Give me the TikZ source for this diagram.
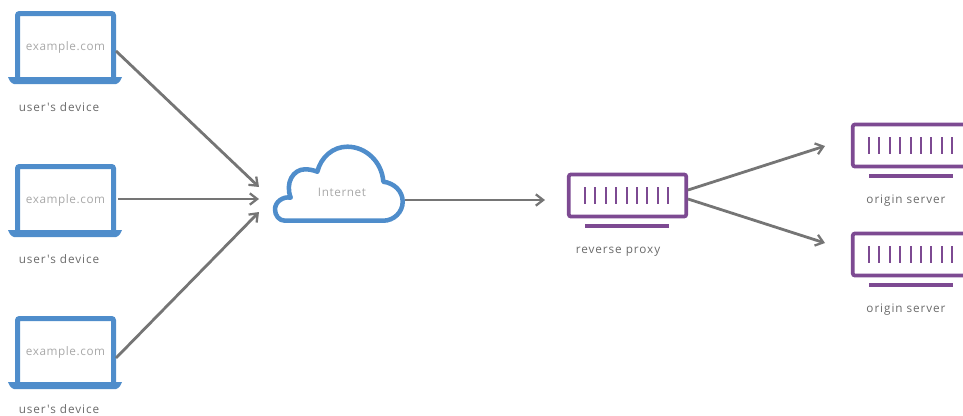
\documentclass[tikz,border=0pt]{standalone}
\usepackage{fontspec}
\setmainfont{Open Sans}
\newfontfamily\capfont[LetterSpace=8]{Open Sans}
\newfontfamily\inkfont[LetterSpace=5]{Open Sans}
\usetikzlibrary{arrows.meta}
\definecolor{lapblue}{HTML}{4F8DCB}
\definecolor{srvpurple}{HTML}{7D4A92}
\definecolor{arrowgray}{HTML}{757575}
\definecolor{lbl}{HTML}{6A6A6A}
\definecolor{lbllight}{HTML}{A8A8A8}
\tikzset{
  x=0.75pt,y=-0.75pt,
  screen/.style={draw=lapblue,line width=3.75pt,rounded corners=1.5pt,minimum width=72pt,minimum height=49.5pt,inner sep=0pt},
  screentext/.style={text=lbllight,inner sep=0pt,font=\inkfont\fontsize{8.8}{10}\selectfont},
  lapbase/.style={fill=lapblue,draw=none},
  srvbox/.style={draw=srvpurple,line width=2.8pt,rounded corners=1.5pt,minimum width=88pt,minimum height=31.5pt,inner sep=0pt},
  tick/.style={draw=srvpurple,line width=1.5pt},
  srvfoot/.style={draw=srvpurple,line width=3pt},
  caption/.style={text=lbl,font=\capfont\fontsize{8.8}{10}\selectfont,inner sep=0pt},
  cloudline/.style={draw=lapblue,line width=3.4pt,line join=round},
  link/.style={draw=arrowgray,line width=2.1pt,-{Straight Barb[length=5.5pt,width=8.5pt,line width=1.7pt]}},
}
\begin{document}
\begin{tikzpicture}
\useasboundingbox (0,0) rectangle (963,415);
\clip (0,0) rectangle (963,415);
% laptops
\foreach \n/\dy/\ty in {1/0/107,2/153/259,3/305/409}{
  \node[screen] (lap\n) at (65.5,46.5+\dy) {};
  \node[screentext] (url\n) at (65.5,47.5+\dy) {example.com};
  \fill[lapbase] (8,77+\dy) -- (122,77+\dy) -- (120,81+\dy) to[out=-135,in=0] (116,84+\dy) -- (14,84+\dy) to[out=180,in=-45] (10,81+\dy) -- cycle;
  \node[caption] (cap\n) at (59,\ty) {user's device};
}
% cloud
\draw[cloudline] (285,220.7)
  .. controls (279,220.7) and (275,215.5) .. (275,209.3)
  .. controls (275,202) and (283,196) .. (290.7,197.7)
  .. controls (285,183) and (293,169.3) .. (305,169.3)
  .. controls (309,169.3) and (313,170) .. (317.3,171.7)
  .. controls (321,157) and (333,146.7) .. (347.3,146.7)
  .. controls (366,146.7) and (382,162) .. (383.3,181.7)
  .. controls (394,183) and (402.7,191) .. (402.7,201.7)
  .. controls (402.7,212) and (394,220.7) .. (383.3,220.7)
  -- cycle;
\node[text=lbllight,font=\inkfont\fontsize{8.8}{10}\selectfont,inner sep=0pt] (inet) at (342,192) {Internet};
\coordinate (cloudW) at (259,199);
\coordinate (cloudE) at (405,200);
% servers
\foreach \n/\cx/\cy in {proxy/627.5/195.5,orig1/911.5/145.5,orig2/911.5/254.5}{
  \node[srvbox] (\n) at (\cx,\cy) {};
  \foreach \k in {0,...,8}{
    \draw[tick] (\cx-42.5+10.4*\k,\cy-8.5) -- (\cx-42.5+10.4*\k,\cy+8.5);
  }
  \draw[srvfoot] (\cx-42.5,\cy+30.5) -- (\cx+41.5,\cy+30.5);
}
\node[caption] (capp) at (618,252) {reverse proxy};
\node[caption] (capo1) at (906,201) {origin server};
\node[caption] (capo2) at (906,309.5) {origin server};
% connector ends
\coordinate (inA) at (259,187);
\coordinate (inC) at (259,212);
\coordinate (proxyIn) at (545,200);
\coordinate (o1In) at (825,146);
\coordinate (o2In) at (825,243);
\coordinate (pA) at (688,190);
\coordinate (pB) at (688,199);
\coordinate (l1out) at (116,51);
\coordinate (l2out) at (118,199);
\coordinate (l3out) at (116,358);
\draw[link] (l1out) -- (inA);
\draw[link] (l2out) -- (cloudW);
\draw[link] (l3out) -- (inC);
\draw[link] (cloudE) -- (proxyIn);
\draw[link] (pA) -- (o1In);
\draw[link] (pB) -- (o2In);
\end{tikzpicture}
\end{document}
